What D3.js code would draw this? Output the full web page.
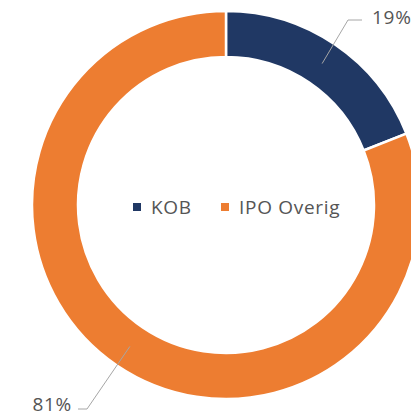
<!DOCTYPE html>
<html>
<head>
<meta charset="utf-8">
<script src="https://cdn.jsdelivr.net/npm/d3@7"></script>
<style>
  body { margin: 0; background: #fff; }
  text { font-family: "Open Sans", sans-serif; fill: #555; letter-spacing: 0.7px; }
</style>
</head>
<body>
<div id="chart"></div>
<script>
// Chart data
var categories = ["KOB", "IPO Overig"];
var values = [19, 81];
var colors = ["#203864", "#ED7D31"];

var width = 411, height = 417;
var cx = 226, cy = 205;
var outerR = 194, innerR = 148;

var svg = d3.select("#chart")
    .append("svg")
    .attr("width", width)
    .attr("height", height);

var g = svg.append("g")
    .attr("transform", "translate(" + cx + "," + cy + ")");

var data = categories.map(function(c, i) { return { key: c, value: values[i], color: colors[i] }; });

var pie = d3.pie()
    .sort(null)
    .value(function(d) { return d.value; });

var arc = d3.arc()
    .innerRadius(innerR)
    .outerRadius(outerR);

var arcs = pie(data);

// Donut slices
g.selectAll(".slice")
    .data(arcs)
    .enter().append("path")
    .attr("class", "slice")
    .attr("d", arc)
    .style("fill", function(d) { return d.data.color; })
    .style("stroke", "#fff")
    .style("stroke-width", 2.5);

// Label positions (elbow + text) relative to the centre
var labelPos = [
    { elbow: [122, -185], end: [136, -185], text: [146, -188], anchor: "start" },
    { elbow: [-139, 204], end: [-148, 204], text: [-154, 199], anchor: "end" }
];

arcs.forEach(function(d, i) {
    var c = arc.centroid(d);
    var p = labelPos[i];
    g.append("polyline")
        .attr("points", [c, p.elbow, p.end].map(function(q) { return q.join(","); }).join(" "))
        .style("fill", "none")
        .style("stroke", "#A6A6A6")
        .style("stroke-width", 1);
    g.append("text")
        .attr("x", p.text[0])
        .attr("y", p.text[1])
        .attr("dy", "0.35em")
        .attr("text-anchor", p.anchor)
        .style("font-size", "19px")
        .text(Math.round(d.data.value) + "%");
});

// Legend in the middle
var legendX = [133, 221];
var legend = svg.selectAll(".legend")
    .data(data)
    .enter().append("g")
    .attr("class", "legend")
    .attr("transform", function(d, i) { return "translate(" + legendX[i] + ",207)"; });

legend.append("rect")
    .attr("x", 0)
    .attr("y", -4)
    .attr("width", 8)
    .attr("height", 8)
    .style("fill", function(d) { return d.color; });

legend.append("text")
    .attr("x", 18)
    .attr("y", 0)
    .attr("dy", "0.35em")
    .style("font-size", "19px")
    .text(function(d) { return d.key; });
</script>
</body>
</html>
